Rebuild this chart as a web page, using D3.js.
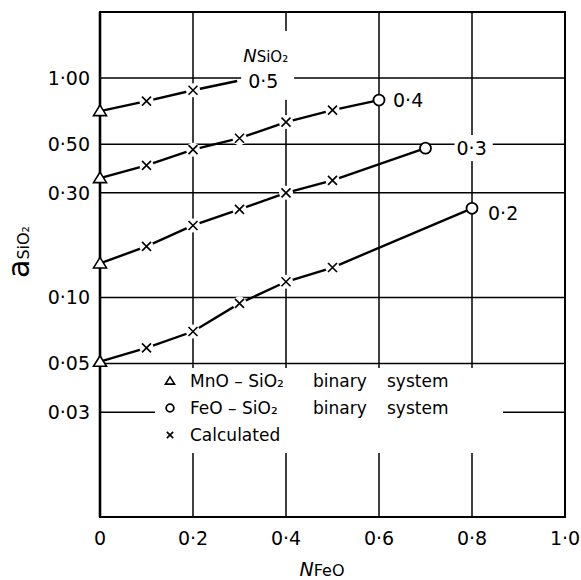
<!DOCTYPE html>
<html>
<head>
<meta charset="utf-8">
<script src="https://cdn.jsdelivr.net/npm/d3@7"></script>
<style>
body { margin: 0; background: #fff; }
svg { font-family: "DejaVu Sans", sans-serif; }
</style>
</head>
<body>
<svg id="chart" width="581" height="580"></svg>
<script>
/*Chart data*/
var nSiO2Labels = ["0·5", "0·4", "0·3", "0·2"];
var mnoBinary = [0.707, 0.35, 0.143, 0.051];          // triangles, NFeO = 0
var calcNFeO = [0.1, 0.2, 0.3, 0.4, 0.5];
var calc05 = [0.785, 0.88];
var calc04 = [0.40, 0.472, 0.532, 0.63, 0.714];
var calc03 = [0.171, 0.213, 0.252, 0.30, 0.342];
var calc02 = [0.059, 0.070, 0.094, 0.118, 0.137];
var feoNFeO = [null, 0.6, 0.7, 0.8];                  // circles
var feoBinary = [null, 0.794, 0.479, 0.255];
var line05End = [0.295, 0.97];                        // 0.5 line runs into its label

var yTicks = [1.00, 0.50, 0.30, 0.10, 0.05, 0.03];
var yTickLabels = ["1·00", "0·50", "0·30", "0·10", "0·05", "0·03"];
var xTicks = [0, 0.2, 0.4, 0.6, 0.8, 1.0];
var xTickLabels = ["0", "0·2", "0·4", "0·6", "0·8", "1·0"];
var xGrid = [0.2, 0.4, 0.6, 0.8];

var legendItems = [
    {type: "tri", text: ["MnO – SiO₂", "binary", "system"]},
    {type: "circ", text: ["FeO – SiO₂", "binary", "system"]},
    {type: "cross", text: ["Calculated"]}
];

/*Build series*/
var calcAll = [calc05, calc04, calc03, calc02];
var series = nSiO2Labels.map(function(lbl, i){
    var pts = [{x: 0, y: mnoBinary[i], type: "tri"}];
    calcAll[i].forEach(function(v, j){
        pts.push({x: calcNFeO[j], y: v, type: "cross"});
    });
    if (feoNFeO[i] !== null) {
        pts.push({x: feoNFeO[i], y: feoBinary[i], type: "circ"});
    } else {
        pts.push({x: line05End[0], y: line05End[1], type: "none"});
    }
    return {label: lbl, points: pts};
});

var svg = d3.select("#chart");
var x = d3.scaleLinear().domain([0, 1]).range([100, 565]);
var y = d3.scaleLog().domain([0.01, 2]).range([517, 12]);

/*Grid*/
var grid = svg.append("g").attr("stroke", "#000").attr("stroke-width", 1.5);
grid.selectAll("line.h").data(yTicks).enter().append("line")
    .attr("class", "h")
    .attr("x1", x(0)).attr("x2", x(1))
    .attr("y1", function(d){ return y(d); })
    .attr("y2", function(d){ return y(d); });
grid.selectAll("line.v").data(xGrid).enter().append("line")
    .attr("class", "v")
    .attr("y1", y(2)).attr("y2", y(0.01))
    .attr("x1", function(d){ return x(d); })
    .attr("x2", function(d){ return x(d); });

/*Frame*/
svg.append("rect")
    .attr("x", x(0)).attr("y", y(2))
    .attr("width", x(1) - x(0)).attr("height", y(0.01) - y(2))
    .attr("fill", "none").attr("stroke", "#000").attr("stroke-width", 2);
svg.append("line")
    .attr("x1", x(0)).attr("x2", x(0)).attr("y1", y(2)).attr("y2", y(0.01))
    .attr("stroke", "#000").attr("stroke-width", 2.6);

/*Axes tick labels*/
svg.append("g").selectAll("text").data(yTicks).enter().append("text")
    .attr("x", 90).attr("y", function(d){ return y(d); })
    .attr("dy", "0.36em")
    .attr("text-anchor", "end")
    .attr("font-size", 19)
    .text(function(d, i){ return yTickLabels[i]; });
svg.append("g").selectAll("text").data(xTicks).enter().append("text")
    .attr("x", function(d){ return x(d); }).attr("y", 545)
    .attr("text-anchor", "middle")
    .attr("font-size", 19)
    .text(function(d, i){ return xTickLabels[i]; });

/*Axis titles*/
var xt = svg.append("text").attr("x", 322).attr("y", 576).attr("text-anchor", "middle");
xt.append("tspan").attr("font-style", "italic").attr("font-size", 19).text("N");
xt.append("tspan").attr("font-size", 16).text("FeO");

var yt = svg.append("text")
    .attr("transform", "translate(29,252) rotate(-90)")
    .attr("text-anchor", "middle");
yt.append("tspan").attr("font-size", 30).text("a");
yt.append("tspan").attr("font-size", 16).text("SiO₂");

/*Legend*/
var legend = svg.append("g");
legend.append("rect")
    .attr("x", 155).attr("y", 368).attr("width", 348).attr("height", 85)
    .attr("fill", "#fff");
var rowY = [381, 408, 435];
var colX = [190, 313, 387];
legendItems.forEach(function(item, i){
    var g = legend.append("g").attr("transform", "translate(170," + rowY[i] + ")");
    drawMarker(g, item.type, 0.7);
    item.text.forEach(function(t, j){
        legend.append("text")
            .attr("x", colX[j]).attr("y", rowY[i]).attr("dy", "0.36em")
            .attr("font-size", 17)
            .text(t);
    });
});

/*Series labels, with a white patch so grid lines break around them*/
var labelDx = [11, 14, 31, 16];
var labelDy = [0, 0, 0, 5];
series.forEach(function(s, i){
    var last = s.points[s.points.length - 1];
    var g = svg.append("g");
    var bg = g.append("rect").attr("fill", "#fff");
    var texts = [];
    var t = g.append("text")
        .attr("x", x(last.x) + labelDx[i])
        .attr("y", y(last.y) + labelDy[i])
        .attr("dy", "0.36em")
        .attr("font-size", 19)
        .text(s.label);
    texts.push(t.node());
    if (i === 0) {
        // NSiO2 heading sits above the first label
        var h = g.append("text").attr("x", x(last.x) + 6).attr("y", y(last.y) - 19);
        h.append("tspan").attr("font-style", "italic").attr("font-size", 18).text("N");
        h.append("tspan").attr("font-size", 15).text("SiO₂");
        texts.push(h.node());
    }
    var x0 = Infinity, y0 = Infinity, x1 = -Infinity, y1 = -Infinity;
    texts.forEach(function(n){
        var b = n.getBBox();
        x0 = Math.min(x0, b.x); y0 = Math.min(y0, b.y);
        x1 = Math.max(x1, b.x + b.width); y1 = Math.max(y1, b.y + b.height);
    });
    var padTop = i === 0 ? 14 : 2;
    var padBot = i === 0 ? 8 : 2;
    bg.attr("x", x0 - 2).attr("y", y0 - padTop)
      .attr("width", x1 - x0 + 8).attr("height", y1 - y0 + padTop + padBot);
});

/*Series lines*/
var line = d3.line()
    .x(function(d){ return x(d.x); })
    .y(function(d){ return y(d.y); });
svg.append("g").selectAll("path").data(series).enter().append("path")
    .attr("d", function(d){ return line(d.points); })
    .attr("fill", "none").attr("stroke", "#000").attr("stroke-width", 2.4);

/*Markers*/
series.forEach(function(s){
    s.points.forEach(function(p){
        if (p.type === "none") return;
        var g = svg.append("g").attr("transform", "translate(" + x(p.x) + "," + y(p.y) + ")");
        drawMarker(g, p.type, 1);
    });
});

function drawMarker(g, type, k){
    if (type === "tri") {
        g.append("path")
            .attr("d", "M0," + (-6 * k) + "L" + (6.5 * k) + "," + (4.5 * k) + "L" + (-6.5 * k) + "," + (4.5 * k) + "Z")
            .attr("fill", "#fff").attr("stroke", "#000").attr("stroke-width", 1.6);
    } else if (type === "circ") {
        g.append("circle").attr("r", 5.5 * k)
            .attr("fill", "#fff").attr("stroke", "#000").attr("stroke-width", 1.8);
    } else if (type === "cross") {
        var r = 4.5 * k;
        if (k === 1) g.append("circle").attr("r", 7).attr("fill", "#fff");
        g.append("path")
            .attr("d", "M" + -r + "," + -r + "L" + r + "," + r + "M" + r + "," + -r + "L" + -r + "," + r)
            .attr("stroke", "#000").attr("stroke-width", 1.6);
    }
}
</script>
</body>
</html>
